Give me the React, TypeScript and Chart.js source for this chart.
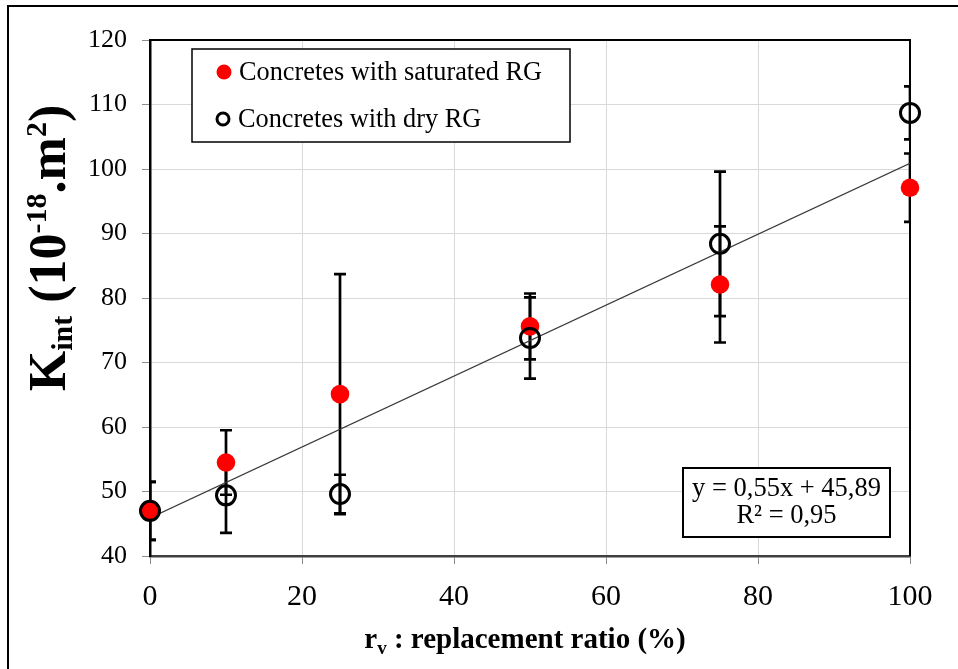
import React, { useEffect, useRef } from "react";
import { Chart, registerables } from "chart.js";

Chart.register(...registerables);

// ---- data ----
const RATIOS = [0, 10, 25, 50, 75, 100];
const SATURATED = [47.0, 54.5, 65.1, 75.6, 82.1, 97.1];
const SATURATED_ERR = [4.5, 5.0, 18.6, 5.1, 9.0, 5.3];
const DRY = [47.0, 49.4, 49.6, 73.8, 88.4, 108.7];
const DRY_ERR = [4.5, 5.8, 3.0, 6.3, 11.2, 4.1];
const SERIES_LABELS = ["Concretes with saturated RG", "Concretes with dry RG"];
const TREND_SLOPE = 0.55;
const TREND_INTERCEPT = 45.89;
const TREND_R2 = 0.95;
const TREND_X = [0, 100];
const X_MIN = 0, X_MAX = 100, X_STEP = 20;
const Y_MIN = 40, Y_MAX = 120, Y_STEP = 10;

const SERIF = "'Liberation Serif', 'Times New Roman', serif";
const fmt = (n: number) => n.toFixed(2).replace(".", ",");

type Part = { text: string; size: number; dy: number };
const Y_TITLE: Part[] = [
  { text: "K", size: 52, dy: 0 },
  { text: "int", size: 30, dy: 7 },
  { text: " (10", size: 52, dy: 0 },
  { text: "-18", size: 30, dy: -19 },
  { text: ".m", size: 52, dy: 0 },
  { text: "2", size: 30, dy: -19 },
  { text: ")", size: 52, dy: 0 },
];
const X_TITLE: Part[] = [
  { text: "r", size: 29, dy: 0 },
  { text: "v", size: 19, dy: 6 },
  { text: " : replacement ratio (%)", size: 29, dy: 0 },
];

function drawParts(ctx: CanvasRenderingContext2D, parts: Part[], startX: number) {
  let x = startX;
  for (const p of parts) {
    ctx.font = `bold ${p.size}px ${SERIF}`;
    ctx.fillText(p.text, x, p.dy);
    x += ctx.measureText(p.text).width;
  }
}
function partsWidth(ctx: CanvasRenderingContext2D, parts: Part[]) {
  let w = 0;
  for (const p of parts) {
    ctx.font = `bold ${p.size}px ${SERIF}`;
    w += ctx.measureText(p.text).width;
  }
  return w;
}

const customPlugin = {
  id: "custom",
  beforeDraw(chart: any) {
    const ctx = chart.ctx as CanvasRenderingContext2D;
    ctx.save();
    ctx.fillStyle = "#ffffff";
    ctx.fillRect(0, 0, chart.width, chart.height);
    ctx.strokeStyle = "#000000";
    ctx.lineWidth = 2;
    ctx.strokeRect(8, 6, chart.width + 20, chart.height + 20);
    ctx.restore();
  },
  beforeDatasetsDraw(chart: any) {
    const ctx = chart.ctx as CanvasRenderingContext2D;
    const { left, right, top, bottom } = chart.chartArea;
    const xs = chart.scales.x;
    const ys = chart.scales.y;
    ctx.save();
    ctx.strokeStyle = "#000000";
    ctx.lineWidth = 2;
    ctx.beginPath();
    ctx.moveTo(left, top);
    ctx.lineTo(right, top);
    ctx.lineTo(right, bottom);
    ctx.stroke();

    ctx.beginPath();
    ctx.rect(left, top, right - left, bottom - top);
    ctx.clip();
    ctx.lineWidth = 2.7;
    const series = [
      { vals: SATURATED, errs: SATURATED_ERR },
      { vals: DRY, errs: DRY_ERR },
    ];
    for (const s of series) {
      s.vals.forEach((v, i) => {
        const px = xs.getPixelForValue(RATIOS[i]);
        const yt = ys.getPixelForValue(v + s.errs[i]);
        const yb = ys.getPixelForValue(v - s.errs[i]);
        ctx.beginPath();
        ctx.moveTo(px, yt);
        ctx.lineTo(px, yb);
        ctx.moveTo(px - 6, yt);
        ctx.lineTo(px + 6, yt);
        ctx.moveTo(px - 6, yb);
        ctx.lineTo(px + 6, yb);
        ctx.stroke();
      });
    }
    ctx.restore();
  },
  afterDatasetsDraw(chart: any) {
    const ctx = chart.ctx as CanvasRenderingContext2D;
    ctx.save();
    // legend box
    ctx.fillStyle = "#ffffff";
    ctx.fillRect(192, 49, 378, 93);
    ctx.strokeStyle = "#000000";
    ctx.lineWidth = 1.5;
    ctx.strokeRect(192, 49, 378, 93);
    ctx.fillStyle = "#ff0000";
    ctx.beginPath();
    ctx.arc(224, 72, 7.5, 0, Math.PI * 2);
    ctx.fill();
    ctx.strokeStyle = "#000000";
    ctx.lineWidth = 3;
    ctx.beginPath();
    ctx.arc(223, 119, 6, 0, Math.PI * 2);
    ctx.stroke();
    ctx.fillStyle = "#000000";
    ctx.font = `26.3px ${SERIF}`;
    ctx.textBaseline = "middle";
    ctx.textAlign = "left";
    const labels = chart.data.datasets.filter((d: any) => d.label).map((d: any) => d.label);
    ctx.fillText(labels[0], 239, 73);
    ctx.fillText(labels[1], 238, 120);

    // equation box
    ctx.fillStyle = "#ffffff";
    ctx.fillRect(683, 468, 207, 69);
    ctx.strokeStyle = "#000000";
    ctx.lineWidth = 2;
    ctx.strokeRect(683, 468, 207, 69);
    ctx.fillStyle = "#000000";
    ctx.font = `26.5px ${SERIF}`;
    ctx.textAlign = "center";
    ctx.fillText(`y = ${fmt(TREND_SLOPE)}x + ${fmt(TREND_INTERCEPT)}`, 786.5, 489);
    ctx.fillText(`R² = ${fmt(TREND_R2)}`, 786.5, 516);
    ctx.restore();
  },
  afterDraw(chart: any) {
    const ctx = chart.ctx as CanvasRenderingContext2D;
    ctx.save();
    ctx.fillStyle = "#000000";
    ctx.textAlign = "left";
    ctx.textBaseline = "alphabetic";
    // y title (rotated)
    const wy = partsWidth(ctx, Y_TITLE);
    ctx.save();
    ctx.translate(65, 248 + wy / 2);
    ctx.rotate(-Math.PI / 2);
    drawParts(ctx, Y_TITLE, 0);
    ctx.restore();
    // x title
    const wx = partsWidth(ctx, X_TITLE);
    ctx.save();
    ctx.translate(525 - wx / 2, 648);
    drawParts(ctx, X_TITLE, 0);
    ctx.restore();
    ctx.restore();
  },
};

export default function App() {
  const ref = useRef<HTMLCanvasElement | null>(null);
  useEffect(() => {
    if (!ref.current) return;
    const chart = new Chart(ref.current, {
      type: "scatter",
      data: {
        datasets: [
          {
            type: "line",
            label: "",
            data: TREND_X.map((x) => ({ x, y: TREND_SLOPE * x + TREND_INTERCEPT })),
            borderColor: "#3a3a3a",
            borderWidth: 1.2,
            pointRadius: 0,
            fill: false,
            order: 3,
          } as any,
          {
            label: SERIES_LABELS[0],
            data: RATIOS.map((x, i) => ({ x, y: SATURATED[i] })),
            backgroundColor: "#ff0000",
            borderColor: "#ff0000",
            borderWidth: 0,
            pointRadius: 9.3,
            clip: false,
            order: 2,
          },
          {
            label: SERIES_LABELS[1],
            data: RATIOS.map((x, i) => ({ x, y: DRY[i] })),
            backgroundColor: "rgba(0,0,0,0)",
            borderColor: "#000000",
            borderWidth: 3,
            pointRadius: 9.5,
            clip: false,
            order: 1,
          },
        ],
      },
      options: {
        animation: false,
        responsive: false,
        devicePixelRatio: 1,
        layout: { padding: { left: 0, top: 40, right: 48, bottom: 0 } },
        plugins: { legend: { display: false }, tooltip: { enabled: false } },
        scales: {
          x: {
            type: "linear",
            min: X_MIN,
            max: X_MAX,
            ticks: { stepSize: X_STEP, color: "#000", font: { family: SERIF, size: 30 }, padding: 15 },
            grid: { color: "#d9d9d9", tickColor: "#8c8c8c", tickLength: 8, lineWidth: 1 },
            border: { color: "#404040", width: 2.5 },
            afterFit: (s: any) => { s.height = 113; },
          },
          y: {
            type: "linear",
            min: Y_MIN,
            max: Y_MAX,
            ticks: { stepSize: Y_STEP, color: "#000", font: { family: SERIF, size: 26 }, padding: 15 },
            grid: { color: "#d9d9d9", tickColor: "#8c8c8c", tickLength: 8, lineWidth: 1 },
            border: { color: "#000000", width: 2.5 },
            afterFit: (s: any) => { s.width = 150; },
          },
        },
      } as any,
      plugins: [customPlugin],
    });
    return () => chart.destroy();
  }, []);
  return (
    <div style={{ position: "fixed", left: 0, top: 0, width: 958, height: 669 }}>
      <canvas ref={ref} width={958} height={669} style={{ width: 958, height: 669, display: "block" }} />
    </div>
  );
}
